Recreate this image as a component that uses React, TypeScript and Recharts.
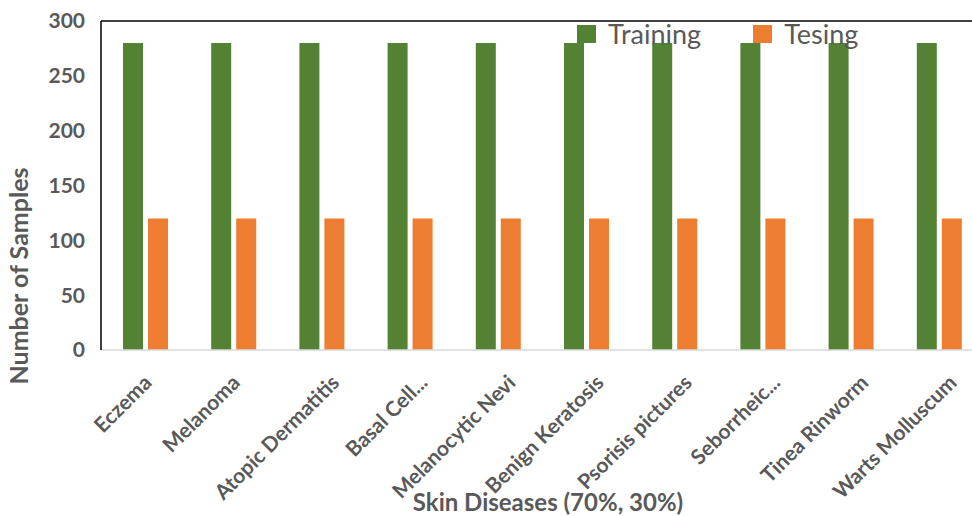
import React from "react";
import {
  Bar,
  BarChart,
  Legend,
  ReferenceLine,
  XAxis,
  YAxis,
} from "recharts";

const diseases = [
  "Eczema",
  "Melanoma",
  "Atopic Dermatitis",
  "Basal Cell...",
  "Melanocytic Nevi",
  "Benign Keratosis",
  "Psorisis pictures",
  "Seborrheic...",
  "Tinea Rinworm",
  "Warts Molluscum",
];
const training = [280, 280, 280, 280, 280, 280, 280, 280, 280, 280];
const testing = [120, 120, 120, 120, 120, 120, 120, 120, 120, 120];
const yTicks = [0, 50, 100, 150, 200, 250, 300];

const data = diseases.map((name, i) => ({
  name,
  training: training[i],
  testing: testing[i],
}));

const GREEN = "#548235";
const ORANGE = "#ED7D31";
const GREY = "#595959";
const FONT = "Lato, 'Open Sans', sans-serif";

function DiseaseTick(props: any) {
  const { x, y, payload } = props;
  const label = String(payload.value);
  const dx = label.length < 10 ? 8 : 19;
  const ax = x + dx;
  const ay = y + 26;
  return (
    <text
      x={ax}
      y={ay}
      transform={`rotate(-45 ${ax} ${ay})`}
      textAnchor="end"
      fontFamily={FONT}
      fontWeight={700}
      fontSize={21}
      fill={GREY}
    >
      {label}
    </text>
  );
}

function LegendBox() {
  const items = [
    { name: "Training", color: GREEN },
    { name: "Tesing", color: ORANGE },
  ];
  return (
    <div style={{ display: "flex", gap: 52 }}>
      {items.map((it) => (
        <div key={it.name} style={{ display: "flex", alignItems: "center" }}>
          <span
            style={{
              width: 19,
              height: 18,
              background: it.color,
              display: "inline-block",
              marginRight: 12,
            }}
          />
          <span
            style={{
              fontFamily: FONT,
              fontSize: 27,
              color: GREY,
              lineHeight: "26px",
            }}
          >
            {it.name}
          </span>
        </div>
      ))}
    </div>
  );
}

export default function App() {
  return (
    <div
      style={{
        position: "absolute",
        left: 0,
        top: 0,
        width: 972,
        height: 516,
        overflow: "hidden",
        background: "#fff",
      }}
    >
      <BarChart
        width={1000}
        height={516}
        data={data}
        margin={{ top: 21, right: 17, left: 0, bottom: 36 }}
        barGap={5}
        barSize={20}
      >
        <XAxis
          dataKey="name"
          interval={0}
          height={130}
          tickLine={false}
          axisLine={{ stroke: "#d9d9d9", strokeWidth: 1.5 }}
          tick={<DiseaseTick />}
          label={{
            content: () => (
              <text
                x={548}
                y={511}
                textAnchor="middle"
                fontFamily={FONT}
                fontWeight={700}
                fontSize={24}
                fill={GREY}
              >
                Skin Diseases (70%, 30%)
              </text>
            ),
          }}
        />
        <YAxis
          width={101}
          domain={[0, 300]}
          ticks={yTicks}
          interval={0}
          tickLine={false}
          tickMargin={10}
          axisLine={{ stroke: "#000", strokeWidth: 1.5 }}
          tick={{ fontFamily: FONT, fontWeight: 700, fontSize: 21, fill: GREY }}
          label={{
            content: () => (
              <text
                x={28}
                y={276}
                transform="rotate(-90 28 276)"
                textAnchor="middle"
                fontFamily={FONT}
                fontWeight={700}
                fontSize={25}
                fill={GREY}
              >
                Number of Samples
              </text>
            ),
          }}
        />
        <ReferenceLine y={300} stroke="#000" strokeWidth={1.5} />
        <Legend
          layout="horizontal"
          verticalAlign="middle"
          align="center"
          content={<LegendBox />}
          wrapperStyle={{ top: 21, left: 577, width: "auto" }}
        />
        <Bar dataKey="training" name="Training" fill={GREEN} isAnimationActive={false} />
        <Bar dataKey="testing" name="Tesing" fill={ORANGE} isAnimationActive={false} />
      </BarChart>
    </div>
  );
}
